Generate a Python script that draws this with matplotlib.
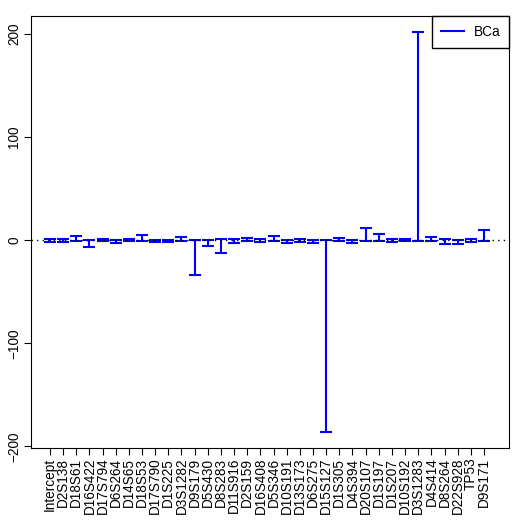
import numpy as np
import matplotlib
matplotlib.use("Agg")
import matplotlib.pyplot as plt
from matplotlib.lines import Line2D

plt.rcParams['font.family'] = ['Liberation Sans', 'DejaVu Sans']

# variable names (x axis)
names = ["Intercept", "D2S138", "D18S61", "D16S422", "D17S794", "D6S264",
         "D14S65", "D18S53", "D17S790", "D1S225", "D3S1282", "D9S179",
         "D5S430", "D8S283", "D11S916", "D2S159", "D16S408", "D5S346",
         "D10S191", "D13S173", "D6S275", "D15S127", "D1S305", "D4S394",
         "D20S107", "D1S197", "D1S207", "D10S192", "D3S1283", "D4S414",
         "D8S264", "D22S928", "TP53", "D9S171"]

# BCa interval bounds
lower = [-2, -2, -0.5, -6.5, -1, -3, -1, -0.5, -2, -2, -1, -34,
         -5.5, -12, -2.5, -1, -1.5, -0.5, -3, -1.5, -2.5, -186,
         -0.5, -3, -0.5, -1, -1.5, -1, -0.5, -0.5, -4, -3.5, -1.5, -0.5]
upper = [1.5, 1, 4, 0, 1.5, 0.5, 1, 5, 0.5, 0.5, 3, 0.5,
         0.5, 1, 1.5, 2, 1.5, 4, 0.5, 1.5, 0.5, 0.5,
         2, 0.5, 12, 6, 1, 1, 202, 3, 1, 0.5, 1, 10]

x = np.arange(1, len(names) + 1)
lo = np.array(lower)
hi = np.array(upper)
mid = (lo + hi) / 2

fig = plt.figure(figsize=(5.25, 5.25), dpi=100)
ax = fig.add_axes([31 / 525, 1 - 448 / 525, 478 / 525, 432 / 525])

ax.errorbar(x, mid, yerr=[mid - lo, hi - mid], fmt='none', ecolor='#0000FF',
            elinewidth=1.5, capsize=4.6, capthick=1.5)
ax.axhline(0, color='black', linestyle=(0, (1, 3)), linewidth=1)

ax.set_xlim(1 - 1.44, len(names) + 1.9)
ax.set_ylim(-201.5, 217.5)

ax.set_xticks(x)
ax.set_xticklabels(names, rotation=90, fontsize=9.8)
ax.set_yticks([-200, -100, 0, 100, 200])
ax.set_yticklabels(["\u2212200", "\u2212100", "0", "100", "200"],
                   rotation=90, va='center', fontsize=9.8)
ax.tick_params(direction='out', length=5, width=0.8, pad=2)

for s in ax.spines.values():
    s.set_linewidth(0.8)

handle = Line2D([0], [0], color='#0000FF', linewidth=1.5)
ax.legend([handle], ["BCa"], loc='upper right', borderaxespad=0,
          fancybox=False, edgecolor='black', framealpha=1, fontsize=9.8,
          handlelength=1.7, handletextpad=0.7, borderpad=0.65)

fig.savefig("out.png", dpi=100)
